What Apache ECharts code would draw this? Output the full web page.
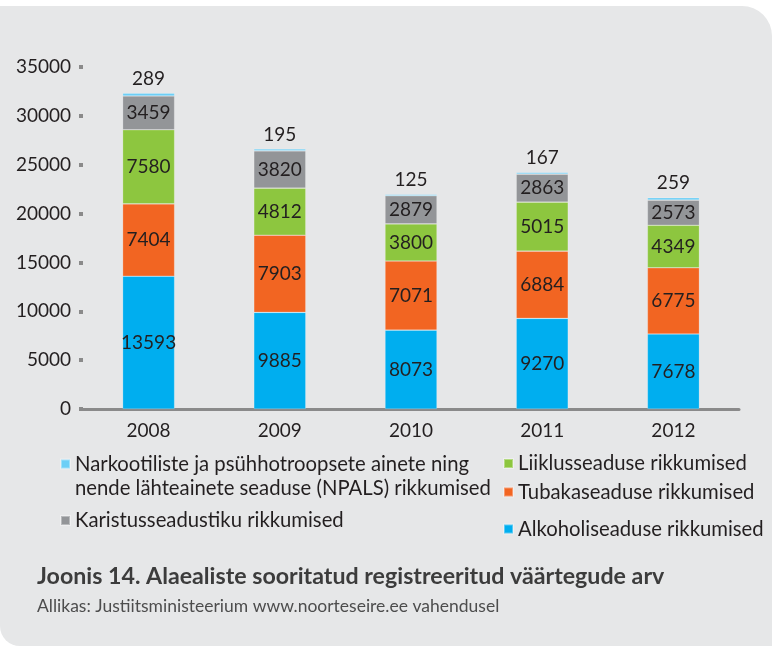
<!DOCTYPE html>
<html>
<head>
<meta charset="utf-8">
<script src="https://cdn.jsdelivr.net/npm/echarts@6/dist/echarts.min.js"></script>
<style>
	html, body { margin: 0; padding: 0; background: #fff; }
	#panel {
		position: absolute; left: 0; top: 6px; width: 772px; height: 640px;
		background: #e6e7e8; border-radius: 0 30px 0 20px;
	}
	#chart { position: absolute; left: 0; top: 0; width: 772px; height: 647px; }
</style>
</head>
<body>
<div id="panel"></div>
<div id="chart"></div>
<script>
const years = ['2008', '2009', '2010', '2011', '2012'];
const alkohol = [13593, 9885, 8073, 9270, 7678];
const tubakas = [7404, 7903, 7071, 6884, 6775];
const liiklus = [7580, 4812, 3800, 5015, 4349];
const karistus = [3459, 3820, 2879, 2863, 2573];
const narko = [289, 195, 125, 167, 259];
const yTicks = [0, 35000, 5000]; // min, max, step

const nAlk = 'Alkoholiseaduse rikkumised';
const nTub = 'Tubakaseaduse rikkumised';
const nLiik = 'Liiklusseaduse rikkumised';
const nKar = 'Karistusseadustiku rikkumised';
const nNark = 'Narkootiliste ja psühhotroopsete ainete ning nende lähteainete seaduse (NPALS) rikkumised';

const font = 'Lato';
const txt = '#231f20';

var chart = echarts.init(document.getElementById('chart'), null, { width: 772, height: 647 });

function bar(name, data, color, top) {
	return {
		name: name,
		type: 'bar',
		stack: 'total',
		barWidth: 52,
		data: data,
		itemStyle: { color: color, borderColor: 'rgba(255,255,255,0.35)', borderWidth: 0.6 },
		label: {
			show: true,
			position: top ? 'top' : 'inside',
			distance: 5,
			color: txt,
			fontSize: 19,
			fontFamily: font
		}
	};
}

function legendAt(name, left, top, fmt) {
	return {
		data: [name],
		left: left,
		top: top,
		padding: 0,
		icon: 'rect',
		itemWidth: 9,
		itemHeight: 9,
		selectedMode: false,
		formatter: fmt || '{name}',
		textStyle: { fontSize: 20.3, fontFamily: font, color: txt }
	};
}

option = {
	backgroundColor: 'transparent',
	animation: false,
	title: {
		text: 'Joonis 14. Alaealiste sooritatud registreeritud väärtegude arv',
		subtext: 'Allikas: Justiitsministeerium www.noorteseire.ee vahendusel',
		left: 37,
		top: 564,
		padding: 0,
		itemGap: 6,
		textStyle: { fontSize: 23.2, fontWeight: 'bold', fontFamily: font, color: '#3c3c3c', lineHeight: 26 },
		subtextStyle: { fontSize: 17.5, fontFamily: font, color: '#4d4d4d', lineHeight: 20 }
	},
	legend: [
		legendAt(nNark, 60, 454, function() { return 'Narkootiliste ja psühhotroopsete ainete ning'; }),
		legendAt(nKar, 60, 510.5),
		legendAt(nLiik, 503, 453.5),
		legendAt(nTub, 503, 482),
		legendAt(nAlk, 503, 519)
	],
	graphic: [{
		type: 'text',
		left: 75,
		top: 478,
		style: {
			text: 'nende lähteainete seaduse (NPALS) rikkumised',
			fontSize: 20.3,
			fontFamily: font,
			fill: txt
		}
	}],
	grid: {
		left: 83,
		width: 656,
		top: 67,
		bottom: 238,
		containLabel: false
	},
	xAxis: {
		type: 'category',
		data: years,
		axisLine: { lineStyle: { color: '#8a8a8a', width: 3 } },
		axisTick: { show: false },
		axisLabel: { margin: 12, fontSize: 19, fontFamily: font, color: txt }
	},
	yAxis: {
		type: 'value',
		min: yTicks[0],
		max: yTicks[1],
		interval: yTicks[2],
		axisLine: { show: false },
		axisTick: { show: true, length: 4, lineStyle: { color: '#8a8a8a', width: 4 } },
		splitLine: { show: false },
		axisLabel: {
			margin: 12, fontSize: 19, fontFamily: font, color: txt,
			formatter: function(v) { return String(v); }
		}
	},
	series: [
		bar(nAlk, alkohol, '#00aeef'),
		bar(nTub, tubakas, '#f26522'),
		bar(nLiik, liiklus, '#8dc63f'),
		bar(nKar, karistus, '#939598'),
		bar(nNark, narko, '#6dcff6', true)
	]
};

chart.setOption(option);
</script>
</body>
</html>
